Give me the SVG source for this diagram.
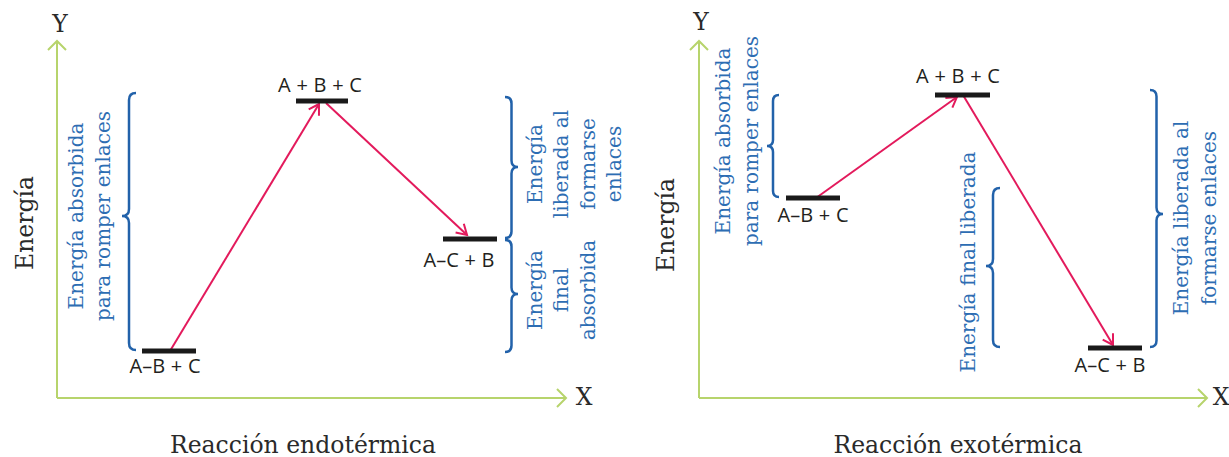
<svg xmlns="http://www.w3.org/2000/svg" width="1229" height="457" viewBox="0 0 1229 457">
<style>
.axis{stroke:#b7d46c;stroke-width:2;fill:none}
.bar{stroke:#1a1a1a;stroke-width:5}
.conn{stroke:#e31a5c;stroke-width:2;fill:none}
.brace{stroke:#2262aa;stroke-width:2.5;fill:none}
.blue{font-family:"DejaVu Serif",serif;font-size:20px;fill:#2d6db3;text-anchor:middle}
.big{font-family:"DejaVu Serif",serif;font-size:23.5px;fill:#2a2a2a;text-anchor:middle}
.lbl{font-family:"Open Sans","Liberation Sans",sans-serif;font-size:20px;word-spacing:0.5px;fill:#231f20;text-anchor:middle}
</style>
<defs>
<marker id="ra" markerUnits="userSpaceOnUse" markerWidth="16" markerHeight="16" refX="12" refY="8" orient="auto">
<path d="M2,2 L12,8 L2,14" fill="none" stroke="#e31a5c" stroke-width="2"/>
</marker>
<marker id="ga" markerUnits="userSpaceOnUse" markerWidth="20" markerHeight="20" refX="11" refY="10" orient="auto">
<path d="M2,1 L11,10 L2,19" fill="none" stroke="#b7d46c" stroke-width="2"/>
</marker>
</defs>

<g id="left-axes">
<line class="axis" x1="57" y1="398" x2="57" y2="41" marker-end="url(#ga)"/>
<line class="axis" x1="57" y1="398" x2="566" y2="398" marker-end="url(#ga)"/>
<text class="big" x="60" y="32" font-size="21">Y</text>
<text class="big" x="584" y="405" font-size="21">X</text>
<text class="big" transform="translate(33,223) rotate(-90)">Energía</text>
<text class="big" x="303" y="453">Reacción endotérmica</text>
</g>

<g id="right-axes">
<line class="axis" x1="699" y1="398" x2="699" y2="41" marker-end="url(#ga)"/>
<line class="axis" x1="699" y1="398" x2="1207" y2="398" marker-end="url(#ga)"/>
<text class="big" x="701" y="30" font-size="21">Y</text>
<text class="big" x="1221" y="405" font-size="21">X</text>
<text class="big" transform="translate(674,225) rotate(-90)">Energía</text>
<text class="big" x="958" y="453">Reacción exotérmica</text>
</g>

<g id="connectors">
<line class="conn" x1="170" y1="351" x2="319" y2="104" marker-end="url(#ra)"/>
<line class="conn" x1="326" y1="103" x2="467" y2="235" marker-end="url(#ra)"/>
<line class="conn" x1="816" y1="198" x2="957" y2="97" marker-end="url(#ra)"/>
<line class="conn" x1="963" y1="95" x2="1113" y2="345" marker-end="url(#ra)"/>
</g>

<g id="L-ABC-reactant">
<line class="bar" x1="142" y1="351" x2="196" y2="351"/>
<text class="lbl" x="165" y="373">A–B + C</text>
</g>
<g id="L-ABC-transition">
<line class="bar" x1="296" y1="101" x2="348" y2="101"/>
<text class="lbl" x="320" y="92">A + B + C</text>
</g>
<g id="L-ACB-product">
<line class="bar" x1="443" y1="239" x2="497" y2="239"/>
<text class="lbl" x="459" y="267">A–C + B</text>
</g>

<g id="L-brace-absorbed">
<path class="brace" d="M136,93 Q129,93 129,100 L129,209 Q129,216 122,216 Q129,216 129,223 L129,343 Q129,350 136,350"/>
<text class="blue" transform="translate(83,216) rotate(-90)">Energía absorbida</text>
<text class="blue" transform="translate(110,216) rotate(-90)">para romper enlaces</text>
</g>
<g id="L-brace-released">
<path class="brace" d="M505,97 Q511.5,97 511.5,103.5 L511.5,160.5 Q511.5,167 518,167 Q511.5,167 511.5,173.5 L511.5,231.5 Q511.5,238 505,238"/>
<text class="blue" transform="translate(542,164) rotate(-90)">Energía</text>
<text class="blue" transform="translate(568,164) rotate(-90)">liberada al</text>
<text class="blue" transform="translate(595,164) rotate(-90)">formarse</text>
<text class="blue" transform="translate(621,164) rotate(-90)">enlaces</text>
</g>
<g id="L-brace-final">
<path class="brace" d="M505,240 Q511.5,240 511.5,246.5 L511.5,287.5 Q511.5,294 518,294 Q511.5,294 511.5,300.5 L511.5,345.5 Q511.5,352 505,352"/>
<text class="blue" transform="translate(542,290) rotate(-90)">Energía</text>
<text class="blue" transform="translate(568,290) rotate(-90)">final</text>
<text class="blue" transform="translate(595,290) rotate(-90)">absorbida</text>
</g>

<g id="R-ABC-reactant">
<line class="bar" x1="786" y1="198" x2="840" y2="198"/>
<text class="lbl" x="813" y="222">A–B + C</text>
</g>
<g id="R-ABC-transition">
<line class="bar" x1="935" y1="95" x2="990" y2="95"/>
<text class="lbl" x="958" y="83">A + B + C</text>
</g>
<g id="R-ACB-product">
<line class="bar" x1="1088" y1="348" x2="1142" y2="348"/>
<text class="lbl" x="1110" y="372">A–C + B</text>
</g>

<g id="R-brace-absorbed">
<path class="brace" d="M779,95 Q773,95 773,101 L773,140 Q773,146 767,146 Q773,146 773,152 L773,191 Q773,197 779,197"/>
<text class="blue" transform="translate(730,141) rotate(-90)">Energía absorbida</text>
<text class="blue" transform="translate(758,141) rotate(-90)">para romper enlaces</text>
</g>
<g id="R-brace-final">
<path class="brace" d="M1000,188 Q993,188 993,195 L993,259 Q993,266 986,266 Q993,266 993,273 L993,340 Q993,347 1000,347"/>
<text class="blue" transform="translate(975,262) rotate(-90)">Energía final liberada</text>
</g>
<g id="R-brace-released">
<path class="brace" d="M1150,90 Q1156.5,90 1156.5,96.5 L1156.5,207.5 Q1156.5,214 1163,214 Q1156.5,214 1156.5,220.5 L1156.5,340.5 Q1156.5,347 1150,347"/>
<text class="blue" transform="translate(1188,218) rotate(-90)">Energía liberada al</text>
<text class="blue" transform="translate(1216,218) rotate(-90)">formarse enlaces</text>
</g>
</svg>
